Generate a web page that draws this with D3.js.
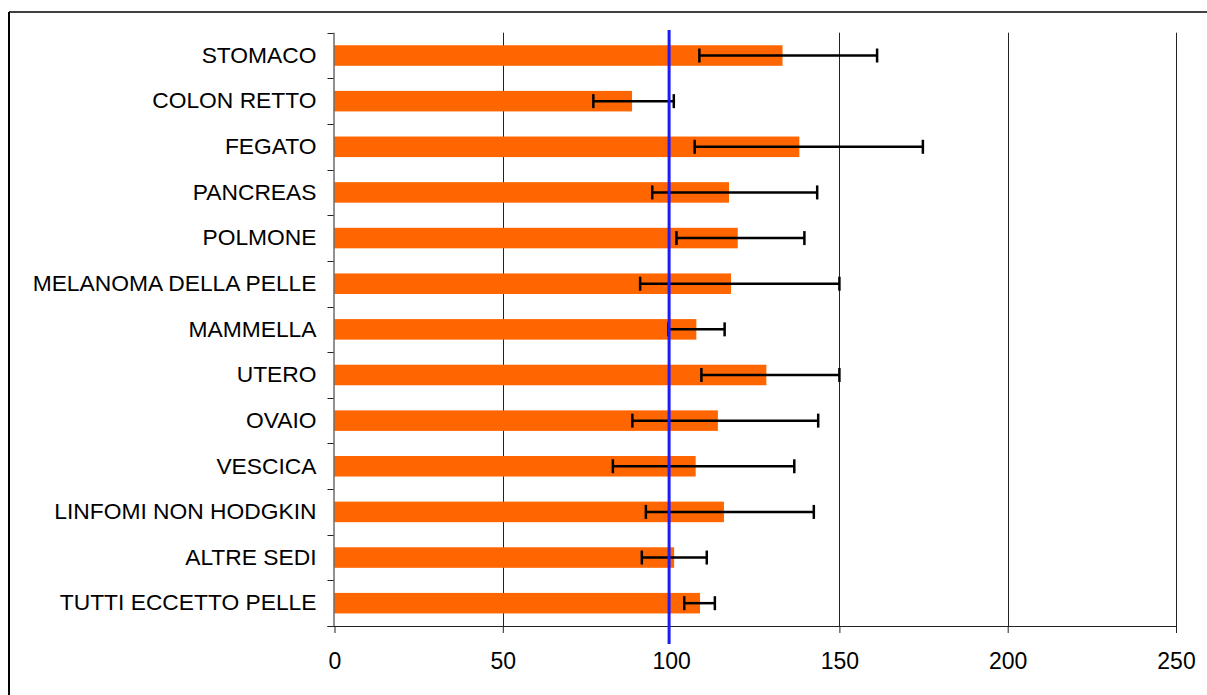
<!DOCTYPE html>
<html>
<head>
<meta charset="utf-8">
<script src="https://cdn.jsdelivr.net/npm/d3@7/dist/d3.min.js"></script>
<style>
  html, body { margin: 0; padding: 0; background: #fff; }
  svg { display: block; font-family: "Liberation Sans", Arial, sans-serif; }
</style>
</head>
<body>
<svg id="chart" width="1207" height="695"></svg>
<script>
const categories = ["STOMACO", "COLON RETTO", "FEGATO", "PANCREAS", "POLMONE",
  "MELANOMA DELLA PELLE", "MAMMELLA", "UTERO", "OVAIO", "VESCICA",
  "LINFOMI NON HODGKIN", "ALTRE SEDI", "TUTTI ECCETTO PELLE"];
const values = [133.1, 88.4, 138.1, 117.2, 119.8, 117.8, 107.5, 128.3, 113.9, 107.3, 115.7, 100.9, 108.6];
const lower  = [108.4, 76.9, 107.0, 94.4, 101.6, 90.8, 99.2, 109.0, 88.5, 82.7, 92.5, 91.3, 103.9];
const upper  = [161.2, 100.8, 174.8, 143.4, 139.6, 150.0, 115.9, 150.0, 143.7, 136.6, 142.4, 110.6, 113.0];
const xTicks = [0, 50, 100, 150, 200, 250];
const reference = 100;

const svg = d3.select("#chart");
const pLeft = 334.5, pRight = 1176, pTop = 32.7, pBottom = 626;

const x = d3.scaleLinear().domain([0, 250]).range([pLeft, pRight]);
const y = d3.scaleBand().domain(categories).range([pTop, pBottom]).paddingInner(0.55).paddingOuter(0.275);
const yb = d3.scaleBand().domain(categories).range([pTop, pBottom]);

// outer frame
svg.append("line").attr("x1", 9).attr("x2", 9).attr("y1", 12).attr("y2", 695)
  .attr("stroke", "#000").attr("stroke-width", 2);
svg.append("line").attr("x1", 9).attr("x2", 1207).attr("y1", 12).attr("y2", 12)
  .attr("stroke", "#000").attr("stroke-width", 1.5);

// gridlines (the one at the reference value is covered by the reference line)
svg.append("g").selectAll("line").data(xTicks.filter(d => d > 0 && d !== reference)).join("line")
  .attr("x1", d => Math.round(x(d)) + 0.5).attr("x2", d => Math.round(x(d)) + 0.5)
  .attr("y1", pTop).attr("y2", pBottom)
  .attr("stroke", "#222").attr("stroke-width", 1);

// bars
svg.append("g").selectAll("rect").data(categories).join("rect")
  .attr("x", x(0))
  .attr("y", d => y(d))
  .attr("width", (d, i) => x(values[i]) - x(0))
  .attr("height", y.bandwidth())
  .attr("fill", "#FF6600");

// x axis
const xAxis = d3.axisBottom(x).tickValues(xTicks).tickSize(7).tickPadding(20);
const gx = svg.append("g").attr("transform", `translate(0,${pBottom})`).call(xAxis);
gx.select(".domain").attr("d", `M${pLeft - 7},0.5H${pRight}`).attr("stroke", "#222");
gx.selectAll(".tick line").attr("stroke", "#222")
  .attr("stroke-opacity", d => d === reference ? 0 : 1);
gx.selectAll(".tick text").attr("font-size", 23).attr("fill", "#000")
  .attr("font-family", "Liberation Sans, Arial, sans-serif");

// y axis
const yAxis = d3.axisLeft(yb).tickSize(0).tickPadding(17);
const gy = svg.append("g").attr("transform", `translate(${pLeft - 1},0)`).call(yAxis);
gy.select(".domain").attr("d", `M0.5,${pTop}V${pBottom}`).attr("stroke", "#222");
gy.selectAll(".tick text").attr("font-size", 22.8).attr("fill", "#000")
  .attr("font-family", "Liberation Sans, Arial, sans-serif");
// category boundary ticks
const bounds = categories.map(c => yb(c)).concat([pBottom]);
svg.append("g").selectAll("line").data(bounds).join("line")
  .attr("x1", pLeft - 7).attr("x2", pLeft - 1)
  .attr("y1", d => Math.round(d) + 0.5).attr("y2", d => Math.round(d) + 0.5)
  .attr("stroke", "#222");

// error bars
const eg = svg.append("g").attr("stroke", "#000").attr("stroke-width", 2.5);
categories.forEach((c, i) => {
  const cy = y(c) + y.bandwidth() / 2;
  eg.append("line").attr("x1", x(lower[i])).attr("x2", x(upper[i])).attr("y1", cy).attr("y2", cy);
  eg.append("line").attr("x1", x(lower[i])).attr("x2", x(lower[i])).attr("y1", cy - 7).attr("y2", cy + 7);
  eg.append("line").attr("x1", x(upper[i])).attr("x2", x(upper[i])).attr("y1", cy - 7).attr("y2", cy + 7);
});

// reference line (drawn slightly left of the 100 tick, as in the original)
svg.append("line").attr("x1", x(reference) - 2).attr("x2", x(reference) - 2)
  .attr("y1", 30).attr("y2", 644)
  .attr("stroke", "#1a1aff").attr("stroke-width", 3);
</script>
</body>
</html>
